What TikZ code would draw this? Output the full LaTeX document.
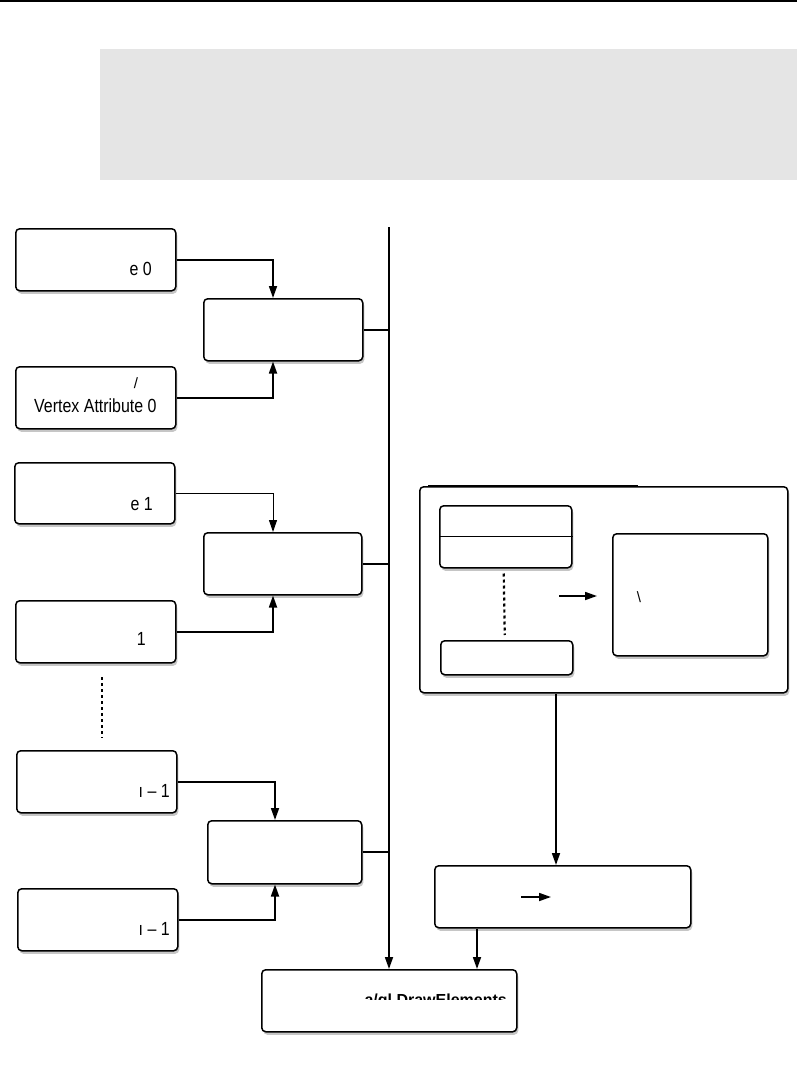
\documentclass[tikz,border=0pt]{standalone}
\usepackage{fontspec}
\setmainfont{Liberation Sans}
\usetikzlibrary{arrows.meta,shadows,calc}
\begin{document}
\begin{tikzpicture}[x=1pt,y=-1pt,
  box/.style={draw, line width=1.5pt, rounded corners=4pt, fill=white, anchor=north west,
    inner sep=0pt, drop shadow={opacity=0.45, shadow xshift=1.5pt, shadow yshift=-3pt}},
  conn/.style={line width=1.7pt, -{Triangle[length=12pt,width=8pt]}},
  thinconn/.style={line width=1pt, -{Triangle[length=12pt,width=8pt]}},
  bar/.style={line width=1.7pt},
  dots/.style={line width=2.2pt, dash pattern=on 3pt off 3pt},
  txt/.style={inner sep=0pt, font=\fontsize{19}{22}\selectfont},
  tick/.style={inner sep=0pt, font=\fontsize{15}{17}\selectfont}]
\useasboundingbox (0,0) rectangle (797,1081);
% header
\draw[line width=2pt] (0,1) -- (797,1);
\fill[gray!20] (100,49) rectangle (797,180);

% left column boxes
\node[box, minimum width=160pt, minimum height=62pt] (A0) at (15,228) {};
\node[box, minimum width=159pt, minimum height=62pt] (C0) at (203,298) {};
\node[box, minimum width=160pt, minimum height=62pt] (B0) at (15,366) {};

\node[box, minimum width=160pt, minimum height=61pt] (A1) at (14,462) {};
\node[box, minimum width=158pt, minimum height=62pt] (C1) at (203,532) {};
\node[box, minimum width=160pt, minimum height=62pt] (B1) at (15,600) {};

\node[box, minimum width=160pt, minimum height=62pt] (A2) at (16,750) {};
\node[box, minimum width=154pt, minimum height=63pt] (C2) at (207,820) {};
\node[box, minimum width=160pt, minimum height=62pt] (B2) at (17,888) {};

% texts of left boxes
\node[txt, anchor=base east] (tA0) at (152,275) {\scalebox{0.84}[1]{e 0}};
\node[tick] (tB0a) at (136,383) {/};
\node[txt, anchor=base west] (tB0) at (34,412) {\scalebox{0.84}[1]{Vertex Attribute 0}};
\node[txt, anchor=base east] (tA1) at (153,510) {\scalebox{0.84}[1]{e 1}};
\node[txt, anchor=base east] (tB1) at (146,645) {\scalebox{0.84}[1]{1}};
\node[txt, anchor=base east] (tA2) at (170,797) {\scalebox{0.84}[1]{\i{} – 1}};
\node[txt, anchor=base east] (tB2) at (170,935) {\scalebox{0.84}[1]{\i{} – 1}};

% dotted separator
\coordinate (d1) at (102,677);
\coordinate (d2) at (102,738);
\draw[dots] (d1) -- (d2);

% junction x positions
\coordinate (j0) at (273,0);
\coordinate (j1) at (273,0);
\coordinate (j2) at (275,0);

\draw[conn] (A0.east) -| (C0.north -| j0);
\draw[conn] (B0.east) -| (C0.south -| j0);
\draw[thinconn] (A1.east) -| (C1.north -| j1);
\draw[conn] (B1.east) -| (C1.south -| j1);
\draw[conn] (A2.east) -| (C2.north -| j2);
\draw[conn] (B2.east) -| (C2.south -| j2);

% right group
\node[box, minimum width=368pt, minimum height=206pt] (G) at (419,486) {};
\draw[line width=2.8pt] ($(G.north west)+(9,0)$) -- ($(G.north west)+(219,0)$);
\node[box, minimum width=132pt, minimum height=62pt] (H1) at (439,505) {};
\draw[line width=1pt] (H1.west) -- (H1.east);
\node[box, minimum width=132pt, minimum height=34pt] (H2) at (440,640) {};
\draw[dots] ($(H1.south)+(-2,5)$) -- ($(H2.north)+(-2,-5)$);
\node[box, minimum width=155pt, minimum height=122pt] (H3) at (612,533) {};
\node[tick] (tH3) at (639,597) {\textbackslash};
\coordinate (ia1) at (559,596);
\coordinate (ia2) at (597,596);
\draw[conn] (ia1) -- (ia2);

% bottom boxes
\node[box, minimum width=256pt, minimum height=62pt] (E) at (434,865) {};
\coordinate (ea1) at (521,897);
\coordinate (ea2) at (551,897);
\draw[conn] (ea1) -- (ea2);
\node[box, minimum width=255pt, minimum height=62pt] (F) at (261,969) {};
\begin{scope}
  \clip (300,985) rectangle (515,999.5);
  \node[txt, anchor=base east, font=\fontsize{16}{19}\selectfont\bfseries] (tF) at (507,1005) {a/gl DrawElements};
\end{scope}

\coordinate (gx) at (556,0);
\draw[conn] (G.south -| gx) -- (E.north -| gx);
\coordinate (ex) at (477,0);
\draw[conn] (E.south -| ex) -- (F.north -| ex);

% bus
\coordinate (bustop) at (389,227);
\draw[conn] (bustop) -- (F.north -| bustop);
\draw[bar] (C0.east) -- (C0.east -| bustop);
\draw[bar] (C1.east) -- (C1.east -| bustop);
\draw[bar] (C2.east) -- (C2.east -| bustop);
\end{tikzpicture}
\end{document}
